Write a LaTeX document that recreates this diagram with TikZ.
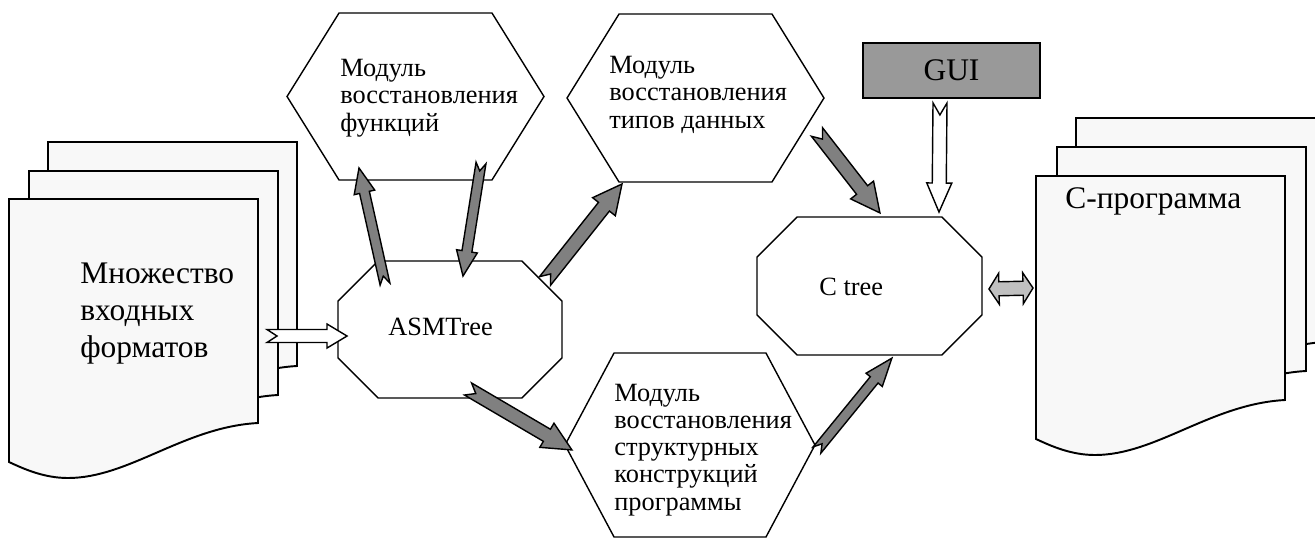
\documentclass[tikz,border=0pt]{standalone}
\usepackage{fontspec}
\setmainfont{Liberation Serif}
\usetikzlibrary{calc}

\definecolor{sheetfill}{HTML}{F8F8F8}
\definecolor{arrowgray}{HTML}{808080}
\definecolor{guigray}{HTML}{999999}
\definecolor{lightarrow}{HTML}{C0C0C0}

% direction and length (in px) of an arrow between two points
\newcommand{\arrowsetup}[2]{%
  \path (#1) coordinate (ba-s) (#2) coordinate (ba-e);%
  \pgfpointdiff{\pgfpointanchor{ba-s}{center}}{\pgfpointanchor{ba-e}{center}}%
  \pgfgetlastxy{\bax}{\bay}%
  \pgfmathsetmacro{\baang}{atan2(\bay,\bax)}%
  \pgfmathsetmacro{\balen}{veclen(\bax,\bay)/0.569055}%
}
% notched block arrow: style, from, to, shaft, head, head length, notch
\newcommand{\blockarrow}[7]{%
  \arrowsetup{#2}{#3}%
  \draw[#1, shift={(ba-s)}, rotate=\baang, x=0.02cm, y=0.02cm]
    (0,-#4) -- ({\balen-#6},-#4) -- ({\balen-#6},-#5) -- (\balen,0)
    -- ({\balen-#6},#5) -- ({\balen-#6},#4) -- (0,#4) -- (#7,0) -- cycle;
}
% block arrow with two heads
\newcommand{\dblarrow}[6]{%
  \arrowsetup{#2}{#3}%
  \draw[#1, shift={(ba-s)}, rotate=\baang, x=0.02cm, y=0.02cm]
    (0,0) -- (#6,#5) -- (#6,#4) -- ({\balen-#6},#4) -- ({\balen-#6},#5)
    -- (\balen,0) -- ({\balen-#6},-#5) -- ({\balen-#6},-#4) -- (#6,-#4)
    -- (#6,-#5) -- cycle;
}
\newcommand{\hexframe}[2]{%
  \draw[frame] (#1.west) -- ($(#1.north west)+(#2,0)$) -- ($(#1.north east)+(-#2,0)$)
    -- (#1.east) -- ($(#1.south east)+(-#2,0)$) -- ($(#1.south west)+(#2,0)$) -- cycle;
}
\newcommand{\octframe}[2]{%
  \draw[frame] ($(#1.north west)+(#2,0)$) -- ($(#1.north east)+(-#2,0)$)
    -- ($(#1.north east)+(0,#2)$) -- ($(#1.south east)+(0,-#2)$)
    -- ($(#1.south east)+(-#2,0)$) -- ($(#1.south west)+(#2,0)$)
    -- ($(#1.south west)+(0,-#2)$) -- ($(#1.north west)+(0,#2)$) -- cycle;
}

\begin{document}
\begin{tikzpicture}[
  x=0.02cm, y=-0.02cm,
  sheet/.style={draw, line width=1.1pt, fill=sheetfill},
  frame/.style={draw, line width=0.8pt, fill=white},
  area/.style={inner sep=0pt, outer sep=0pt},
  bigtext/.style={font=\fontsize{17.9}{21}\selectfont, align=left, inner sep=0pt},
  midtext/.style={font=\fontsize{15}{15.4}\selectfont, align=left, inner sep=0pt},
  grayarrow/.style={draw, line width=0.8pt, fill=arrowgray},
  whitearrow/.style={draw, line width=0.8pt, fill=white},
  dblgray/.style={draw, line width=0.8pt, fill=lightarrow},
  guibox/.style={draw, line width=1.1pt, fill=guigray, inner sep=0pt,
    minimum width=3.54cm, minimum height=1.1cm, font=\fontsize{17.9}{21}\selectfont},
  docsheet/.pic={
    \draw[sheet] (0,0) -- (249,0) -- (249,224)
      .. controls (175,228) and (120,279) .. (59,279)
      .. controls (35,279) and (15,270) .. (0,263) -- cycle;
    \coordinate (-east) at (249,137);
    \coordinate (-west) at (0,112);
  }
]
\useasboundingbox (0,0) rectangle (1315,542);

% Document stacks (text anchored at the last line)
\pic (inpc) at (48,142) {docsheet};
\pic (inpb) at (29,171) {docsheet};
\pic (inpa) at (9,199) {docsheet};
\pic (outc) at (1076,118) {docsheet};
\pic (outb) at (1057,147) {docsheet};
\pic (outa) at (1036,176) {docsheet};
\node[bigtext, anchor=base west] (inText) at (80,357) {Множество\\входных\\форматов};
\node[bigtext, anchor=base west] (outText) at (1065,208) {C-программа};

% Modules
\node[area, minimum width=5.14cm, minimum height=3.34cm] (hexF) at (415.5,96.5) {};
\node[area, minimum width=5.14cm, minimum height=3.36cm] (hexT) at (695.5,98) {};
\node[area, minimum width=5.0cm, minimum height=3.68cm] (hexS) at (690,445) {};
\hexframe{hexF}{52}
\hexframe{hexT}{52}
\hexframe{hexS}{49}
\node[midtext, anchor=base west] (funcText) at (340,131) {Модуль\\восстановления\\функций};
\node[midtext, anchor=base west] (typeText) at (609,128) {Модуль\\восстановления\\типов данных};
\node[midtext, anchor=base west] (structText) at (614,510) {Модуль\\восстановления\\структурных\\конструкций\\программы};

% Trees
\node[area, minimum width=4.48cm, minimum height=2.74cm] (asm) at (450,329.5) {};
\node[area, minimum width=4.5cm, minimum height=2.76cm] (ctree) at (869.5,286) {};
\octframe{asm}{40}
\octframe{ctree}{40}
\node[midtext, anchor=base west] (asmText) at (388,335) {ASMTree};
\node[midtext, anchor=base west] (ctreeText) at (819,295) {C tree};

\node[guibox] (gui) at (951.5,70.5) {GUI};

% Arrows
\blockarrow{whitearrow}{$(inpa-east)+(9,0)$}{$(asm.west)+(9,6.5)$}{6.5}{12}{20}{10}
\blockarrow{grayarrow}{$(asm.north)+(-65,23)$}{$(hexF.south)+(-56.5,-12)$}{5}{10.5}{25}{8}
\blockarrow{grayarrow}{$(hexF.south)+(65.5,-17)$}{$(asm.north)+(13,15)$}{5}{10.5}{25}{8}
\blockarrow{grayarrow}{$(asm.north east)+(-17,20)$}{$(hexT.south)+(-73.5,2)$}{7}{14.5}{29}{9}
\blockarrow{grayarrow}{$(hexT.east)+(-7,34)$}{$(ctree.north)+(10.5,-4)$}{7}{14.5}{29}{9}
\blockarrow{grayarrow}{$(asm.south)+(18,-9)$}{$(hexS.west)+(7,5)$}{7}{14}{29}{9}
\blockarrow{grayarrow}{$(hexS.east)+(2,5)$}{$(ctree.south)+(22.5,3)$}{5}{10.5}{28}{8}
\blockarrow{whitearrow}{$(gui.south)+(-11.5,4)$}{$(ctree.north)+(69.5,-5)$}{7}{12.5}{29}{12}
\dblarrow{dblgray}{$(ctree.east)+(7,3)$}{$(outa-west)+(-3,0)$}{7}{15.5}{10}

\end{tikzpicture}
\end{document}
